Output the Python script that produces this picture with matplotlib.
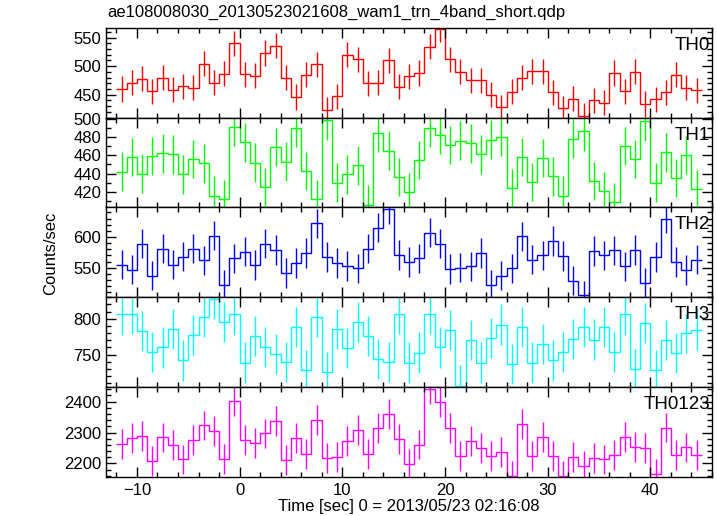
import numpy as np
import matplotlib
matplotlib.use("Agg")
import matplotlib.pyplot as plt
from matplotlib.ticker import MultipleLocator

plt.rcParams['font.family'] = ['Liberation Sans', 'DejaVu Sans']

# 1-second bins, centres from -11.5 to 44.5 s
t_edges = np.arange(-12, 46)
t_mid = np.arange(-11.5, 45.0)

th0 = [460, 471, 478, 456, 480, 459, 465, 462, 504, 471, 487, 540, 486, 483,
       523, 536, 480, 446, 485, 503, 424, 447, 520, 512, 470, 471, 510, 464,
       482, 488, 534, 565, 512, 490, 475, 475, 450, 428, 455, 480, 491, 491,
       454, 426, 443, 413, 440, 436, 488, 456, 490, 434, 442, 454, 485, 462, 458]
th1 = [442, 458, 440, 459, 462, 461, 439, 456, 451, 416, 412, 491, 474, 452,
       425, 469, 453, 490, 443, 412, 498, 430, 439, 449, 406, 484, 465, 436,
       420, 455, 490, 482, 471, 476, 473, 461, 477, 480, 424, 458, 431, 457,
       437, 416, 478, 486, 432, 421, 409, 470, 456, 497, 430, 463, 435, 460, 423]
th2 = [555, 547, 589, 537, 581, 555, 568, 581, 562, 602, 522, 565, 576, 554,
       589, 579, 541, 558, 574, 622, 567, 558, 553, 549, 581, 615, 645, 571,
       559, 565, 607, 589, 548, 550, 552, 574, 522, 537, 549, 601, 563, 570,
       593, 569, 529, 505, 577, 570, 578, 552, 579, 525, 567, 630, 559, 546, 563]
th3 = [806, 807, 783, 754, 760, 786, 742, 777, 803, 827, 796, 806, 739, 776,
       761, 751, 740, 789, 728, 803, 726, 786, 759, 796, 776, 744, 740, 807,
       739, 753, 807, 760, 784, 707, 770, 739, 773, 792, 737, 789, 739, 765,
       742, 754, 772, 789, 771, 789, 754, 806, 730, 794, 728, 770, 752, 780, 785]
th0123 = [2263, 2282, 2288, 2208, 2284, 2259, 2213, 2276, 2323, 2305, 2214,
          2402, 2276, 2266, 2297, 2337, 2212, 2282, 2231, 2340, 2217, 2221,
          2272, 2308, 2231, 2315, 2359, 2279, 2198, 2261, 2440, 2398, 2314,
          2224, 2272, 2250, 2223, 2237, 2161, 2327, 2224, 2285, 2225, 2161,
          2220, 2193, 2217, 2213, 2228, 2285, 2254, 2250, 2165, 2316, 2228,
          2252, 2228]

# typical 1-sigma error per band (counts/sec)
errs = [22, 21, 24, 28, 48]

series = [th0, th1, th2, th3, th0123]
names = ['TH0', 'TH1', 'TH2', 'TH3', 'TH0123']
colors = ['#ff0000', '#00ff00', '#0000ff', '#00ffff', '#ff00ff']
ylims = [(410, 567), (403, 501), (502, 648), (705, 830), (2157, 2447)]
majors = [50, 20, 50, 50, 100]
minors = [10, 10, 10, 10, 20]

fig, axes = plt.subplots(5, 1, figsize=(7.17, 5.16), dpi=100, sharex=True)
fig.subplots_adjust(left=0.148, right=0.993, top=0.946, bottom=0.076, hspace=0)

for ax, vals, name, col, yl, mj, mn, err in zip(axes, series, names, colors,
                                                 ylims, majors, minors, errs):
    ax.stairs(vals, t_edges, color=col, lw=1.0, baseline=None)
    ax.errorbar(t_mid, vals, yerr=err, fmt='none', ecolor=col, elinewidth=1.0,
                capsize=0)
    ax.set_ylim(*yl)
    ax.set_xlim(-13, 46)
    ax.yaxis.set_major_locator(MultipleLocator(mj))
    ax.yaxis.set_minor_locator(MultipleLocator(mn))
    ax.xaxis.set_major_locator(MultipleLocator(10))
    ax.xaxis.set_minor_locator(MultipleLocator(2))
    ax.tick_params(which='both', direction='in', top=True, right=True,
                   labelsize=12, width=1, colors='black')
    ax.tick_params(which='major', length=7)
    ax.tick_params(which='minor', length=3.5)
    ax.tick_params(axis='x', pad=4.5)
    for s in ax.spines.values():
        s.set_linewidth(1.0)
    ax.text(0.997, 0.9, name, transform=ax.transAxes, ha='right', va='top',
            fontsize=13.5)

axes[-1].set_xlabel('Time [sec] 0 = 2013/05/23 02:16:08', fontsize=12, labelpad=0.5)
fig.text(0.07, 0.51, 'Counts/sec', rotation=90, ha='center', va='center',
         fontsize=12)
fig.text(0.150, 0.962, 'ae108008030_20130523021608_wam1_trn_4band_short.qdp',
         ha='left', va='bottom', fontsize=12)

plt.savefig('out.png', dpi=100)
